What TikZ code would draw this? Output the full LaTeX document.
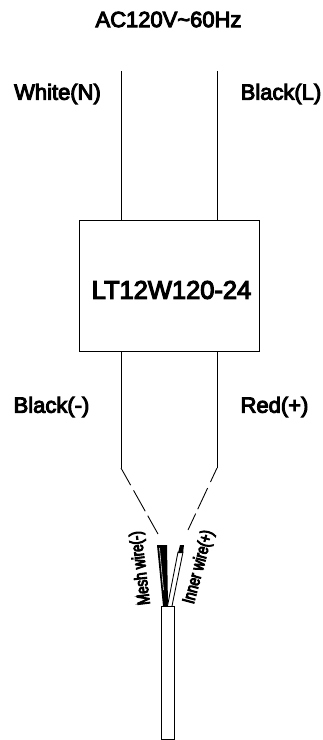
\documentclass[tikz,border=0pt]{standalone}
\usepackage{fontspec}
\setmainfont[FakeBold=4.5]{Liberation Sans}
\newfontfamily\wirefont[FakeBold=5,FakeStretch=.76]{Liberation Sans}
\usetikzlibrary{positioning}
\tikzset{
  wire/.style={line width=.5pt,color=black},
  gapped/.style={wire,dash pattern=on 11.2pt off 3.4pt on 13.6pt off 2.9pt on 20pt},
  label/.style={inner sep=0pt,font=\fontsize{12.5}{14}\selectfont},
  tiny/.style={inner sep=0pt,font=\wirefont\fontsize{10}{12}\selectfont}
}

\begin{document}
\begin{tikzpicture}[x=.02cm,y=-.02cm]
        \useasboundingbox (0,0) rectangle (322,740);

        \node[label] (T) at (168.5,19.5) {AC120V\char`~60Hz};
        \node[label] (N) at (57.5,94) {White(N)};
        \node[label] (L) at (281,94) {Black(L)};
        \node[label] (M) at (51.5,407) {Black(-)};
        \node[label] (P) at (274.5,407) {Red(+)};
        \node[wire,draw,minimum width=3.6cm,minimum height=2.62cm,inner sep=0pt] (B) at (169,285.5) {};
        \node[inner sep=0pt,font=\fontsize{14.5}{18}\selectfont] (Q) at (171.5,290) {LT12W120-24};

        \coordinate (A1) at (121,71);
        \coordinate (A2) at (217,71);
        \coordinate (C1) at (121,468);
        \coordinate (C2) at (217,468);
        \coordinate (D1) at (158,534);
        \coordinate (D2) at (188,530);

        \draw[wire] (A1) -- (A1 |- B.north);
        \draw[wire] (A2) -- (A2 |- B.north);
        \draw[wire] (C1 |- B.south) -- (C1);
        \draw[wire] (C2 |- B.south) -- (C2);
        \draw[gapped] (C1) -- (D1);
        \draw[wire,dash pattern=on 8.8pt off 3.8pt on 13.3pt off 2.8pt on 20pt] (C2) -- (D2);

        % mesh wire
        \fill[black] (157,545) -- (167,545) -- (168,606) -- (163,606) -- cycle;
        \draw[white,line width=.3pt] (159.5,548) -- (163.5,590);
        % inner wire
        \draw[wire,fill=white] (167.5,606) -- (178,552) -- (183,552) -- (172,606);
        \fill[black] (178,553) -- (180,545) -- (184,545) -- (183,553) -- cycle;
        % cable
        \node[wire,draw,fill=white,minimum width=.26cm,minimum height=2.66cm,inner sep=0pt] (K) at (167.5,672.5) {};

        \node[tiny,rotate=97] (W) at (141,568) {Mesh wire(-)};
        \node[tiny,rotate=75] (I) at (199,567) {Inner wire(+)};
\end{tikzpicture}
\end{document}
